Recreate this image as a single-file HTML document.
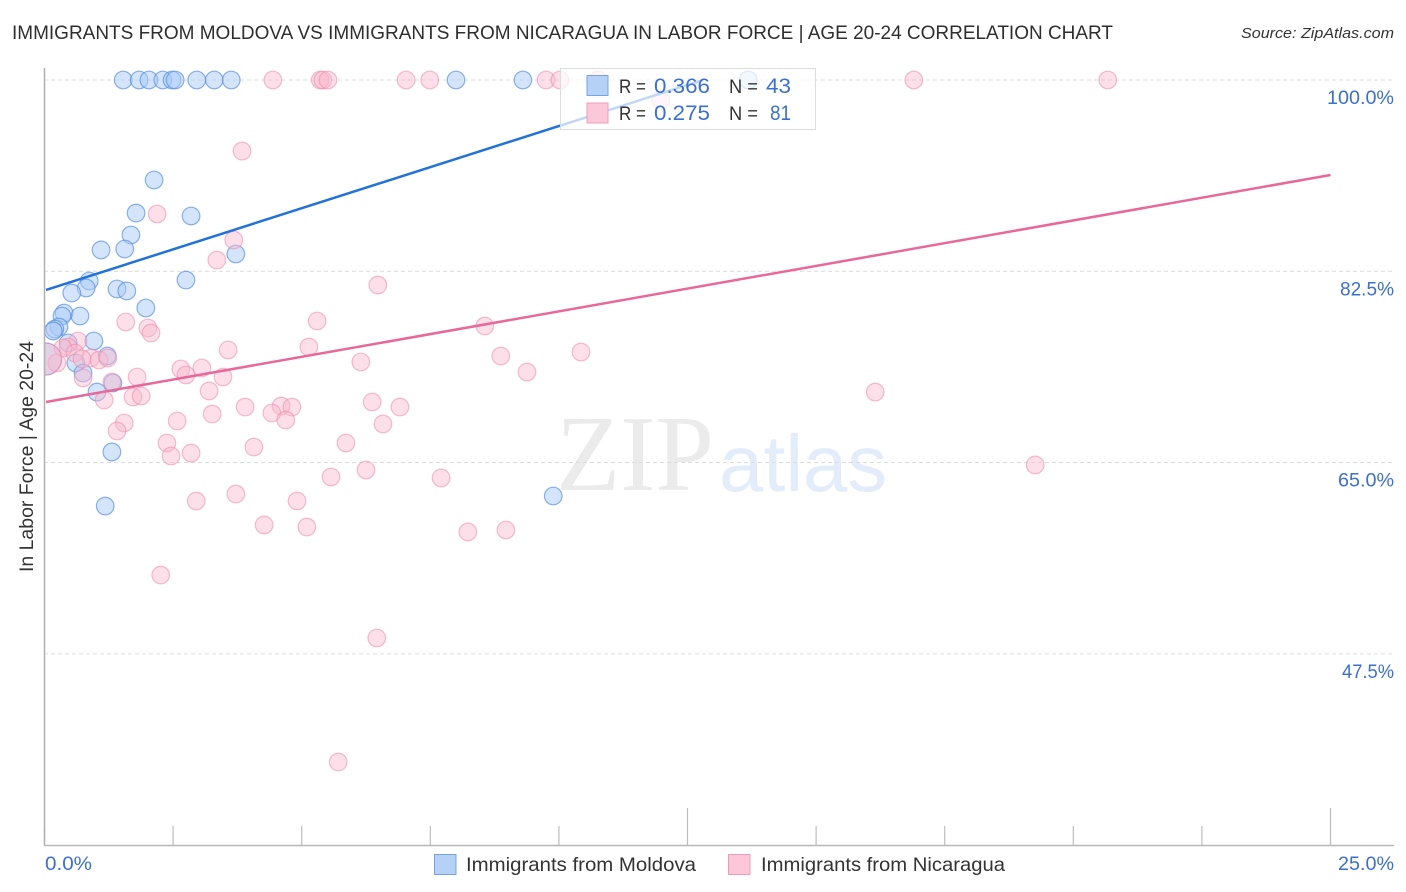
<!DOCTYPE html>
<html lang="en">
<head>
<meta charset="utf-8">
<title>Immigrants from Moldova vs Immigrants from Nicaragua correlation chart</title>
<style>
html,body{margin:0;padding:0;background:#fff;}
body{width:1406px;height:892px;overflow:hidden;}
svg{display:block;font-family:"Liberation Sans",sans-serif;}
</style>
</head>
<body>
<svg id="chart" width="1406" height="892" viewBox="0 0 1406 892" xmlns="http://www.w3.org/2000/svg">
  <defs>
    <clipPath id="plot-clip"><rect x="45" y="60" width="1349" height="785"/></clipPath>
  </defs>
  <text x="12" y="39" font-size="19" fill="#2e2e2e" textLength="1101" lengthAdjust="spacingAndGlyphs">IMMIGRANTS FROM MOLDOVA VS IMMIGRANTS FROM NICARAGUA IN LABOR FORCE | AGE 20-24 CORRELATION CHART</text>
  <text x="1241" y="38" font-size="15" font-style="italic" fill="#333" textLength="153" lengthAdjust="spacingAndGlyphs">Source: ZipAtlas.com</text>

  <g>
    <text x="556" y="490" font-family="'Liberation Serif',serif" font-size="108" fill="#ebebeb" textLength="158" lengthAdjust="spacingAndGlyphs">ZIP</text>
    <text x="719" y="491" font-size="80" fill="#e3ecfa" textLength="168" lengthAdjust="spacingAndGlyphs">atlas</text>
  </g>

  <g id="grid"></g>
  <g id="xticks"></g>
  <g id="ylabels"></g>
  <g id="xlabels"></g>

  <g id="points-moldova" clip-path="url(#plot-clip)"></g>
  <g id="points-nicaragua" clip-path="url(#plot-clip)"></g>
  <g id="lines"></g>

  <g id="axes">
    <line x1="44.5" y1="68" x2="44.5" y2="845" stroke="#b0b0b0" stroke-width="1.5"/>
    <line x1="44" y1="845.5" x2="1394" y2="845.5" stroke="#b8b8b8" stroke-width="1.5"/>
  </g>

  <text transform="translate(33,572) rotate(-90)" font-size="19" fill="#333" textLength="231" lengthAdjust="spacingAndGlyphs">In Labor Force | Age 20-24</text>

  <g>
    <rect x="560.5" y="68.5" width="255" height="61" fill="#fff" fill-opacity="0.72" stroke="#dcdcdc"/>
    <rect x="587" y="75.5" width="21" height="20" fill="#b5d2f6" stroke="#76a3e3"/>
    <rect x="587" y="103" width="21" height="20" fill="#fcc8d9" stroke="#f09bb8"/>
    <text x="619" y="93" font-size="19" fill="#333" textLength="27" lengthAdjust="spacingAndGlyphs">R =</text>
    <text x="654" y="93" font-size="21" fill="#3b6fd0" textLength="56" lengthAdjust="spacingAndGlyphs">0.366</text>
    <text x="729" y="93" font-size="19" fill="#333" textLength="29" lengthAdjust="spacingAndGlyphs">N =</text>
    <text x="766" y="93" font-size="21" fill="#3b6fd0" textLength="25" lengthAdjust="spacingAndGlyphs">43</text>
    <text x="619" y="120" font-size="19" fill="#333" textLength="27" lengthAdjust="spacingAndGlyphs">R =</text>
    <text x="654" y="120" font-size="21" fill="#3b6fd0" textLength="56" lengthAdjust="spacingAndGlyphs">0.275</text>
    <text x="729" y="120" font-size="19" fill="#333" textLength="29" lengthAdjust="spacingAndGlyphs">N =</text>
    <text x="770" y="120" font-size="21" fill="#3b6fd0" textLength="21" lengthAdjust="spacingAndGlyphs">81</text>
  </g>

  <g>
    <rect x="434.5" y="854.5" width="21.5" height="20" fill="#b5d2f6" stroke="#76a3e3"/>
    <text x="466" y="871" font-size="19.5" fill="#333" textLength="230" lengthAdjust="spacingAndGlyphs">Immigrants from Moldova</text>
    <rect x="728.5" y="854.5" width="21.5" height="20" fill="#fcc8d9" stroke="#f09bb8"/>
    <text x="761" y="871" font-size="19.5" fill="#333" textLength="244" lengthAdjust="spacingAndGlyphs">Immigrants from Nicaragua</text>
  </g>
</svg>
<script>
const gridValues = [100, 82.5, 65, 47.5];
const yTickLabels = ["100.0%", "82.5%", "65.0%", "47.5%"];
const xTickValues = [0, 2.5, 5, 7.5, 10, 12.5, 15, 17.5, 20, 22.5, 25];
const xMajorTicks = [12.5, 25];
const xEndLabels = ["0.0%", "25.0%"];

const moldovaX = [1.53,1.84,2.03,2.30,2.48,2.54,2.96,3.30,3.63,8.00,9.30,13.68,
  2.13,1.78,2.85,1.68,1.10,1.56,3.72,2.75,0.87,0.81,1.41,1.60,0.53,1.97,0.38,0.34,0.69,
  0.28,0.20,0.17,0.96,0.46,1.22,0.61,0.02,0.75,1.33,1.02,1.31,1.18,9.89];
const moldovaY = [100,100,100,100,100,100,100,100,100,100,100,100,
  90.85,87.83,87.56,85.82,84.45,84.54,84.08,81.70,81.61,80.97,80.88,80.70,80.51,79.14,78.68,78.41,78.41,
  77.40,77.22,77.04,76.12,75.94,74.75,74.11,74.47,73.19,72.28,71.45,65.97,61.02,61.94];

const nicaraguaX = [4.44,5.36,5.41,5.51,7.03,7.49,9.75,10.02,10.76,16.90,20.67,11.98,
  3.84,2.19,3.68,3.35,6.48,8.56,1.58,2.01,2.07,5.30,5.14,3.57,6.15,8.87,10.43,9.38,
  2.65,2.75,3.06,3.47,1.80,3.20,1.72,1.88,16.15,6.37,3.90,6.91,4.60,4.81,4.42,4.69,
  3.26,6.58,2.58,1.55,1.41,5.86,2.38,4.07,2.46,2.85,19.26,6.25,5.57,7.71,3.72,2.95,
  4.91,4.27,5.10,8.23,8.97,2.26,6.46,5.71,0.65,0.46,0.36,0.59,0.90,1.06,1.23,0.24,
  0.02,1.31,0.75,1.16,0.73];
const nicaraguaY = [100,100,100,100,100,100,100,100,100,100,100,98.17,
  93.50,87.74,85.36,83.53,81.24,77.49,77.86,77.31,76.85,77.95,75.57,75.30,74.20,74.75,75.11,73.28,
  73.56,73.01,73.65,72.83,72.83,71.55,71.00,71.09,71.45,70.54,70.08,70.08,70.17,70.08,69.53,68.89,
  69.44,68.53,68.80,68.62,67.89,66.79,66.79,66.42,65.60,65.87,64.78,64.32,63.68,63.59,62.12,61.48,
  61.48,59.29,59.10,58.65,58.83,54.71,48.95,37.60,76.12,75.57,75.48,75.02,74.57,74.38,74.57,74.11,
  74.47,72.37,72.74,70.72,74.48];

const moldovaLargeIndex = 36;
const nicaraguaLargeIndex = 76;

const moldovaTrendX = [0.03, 12.8];
const moldovaTrendY = [80.79, 100];
const nicaraguaTrendX = [0.03, 25];
const nicaraguaTrendY = [70.54, 91.31];

const NS = "http://www.w3.org/2000/svg";
const xScale = v => 44.5 + v * 51.44;
const yScale = v => 80 + (100 - v) * 10.93;

function make(tag, attrs, parent, text) {
  const el = document.createElementNS(NS, tag);
  for (const k in attrs) el.setAttribute(k, attrs[k]);
  if (text !== undefined) el.textContent = text;
  parent.appendChild(el);
  return el;
}

const grid = document.getElementById('grid');
const ylabels = document.getElementById('ylabels');
const labelWidths = [67, 54, 56, 52];
gridValues.forEach((v, i) => {
  const line = make('line', {x1: 44, x2: 1394, y1: yScale(v), y2: yScale(v), stroke: '#dcdcdc', 'stroke-width': 1, 'stroke-dasharray': '4 3'}, grid);
  
  
  const label = make('text', {x: 1394, y: yScale(v) + 24, 'text-anchor': 'end', 'font-size': 19, fill: '#3b6fd0', textLength: labelWidths[i], lengthAdjust: 'spacingAndGlyphs'}, ylabels, yTickLabels[i]);
  
  
});

const xticks = document.getElementById('xticks');
xTickValues.forEach(v => {
  const top = xMajorTicks.includes(v) ? 808 : 826;
  const tick = make('line', {x1: xScale(v), x2: xScale(v), y1: top, y2: 845, stroke: '#bdbdbd', 'stroke-width': 1.2}, xticks);
  
  
});

const xlabels = document.getElementById('xlabels');
const x0Label = make('text', {x: 45, y: 870, 'font-size': 19, fill: '#3b6fd0', textLength: 47, lengthAdjust: 'spacingAndGlyphs'}, xlabels, xEndLabels[0]);


const x1Label = make('text', {x: 1338, y: 870, 'font-size': 19, fill: '#3b6fd0', textLength: 56, lengthAdjust: 'spacingAndGlyphs'}, xlabels, xEndLabels[1]);



const moldovaGroup = document.getElementById('points-moldova');
moldovaX.forEach((v, i) => {
  const c = make('circle', {cx: xScale(v), cy: yScale(moldovaY[i]), r: i === moldovaLargeIndex ? 16 : 8.8, fill: '#a9c9f5', 'fill-opacity': 0.5, stroke: '#4f8ae0', 'stroke-opacity': 0.65, 'stroke-width': 1.2}, moldovaGroup);
  
  
});

const nicaraguaGroup = document.getElementById('points-nicaragua');
nicaraguaX.forEach((v, i) => {
  const c = make('circle', {cx: xScale(v), cy: yScale(nicaraguaY[i]), r: i === nicaraguaLargeIndex ? 16 : 8.8, fill: '#f9b9cd', 'fill-opacity': 0.45, stroke: '#ee86a9', 'stroke-opacity': 0.55, 'stroke-width': 1.2}, nicaraguaGroup);
  
  
});

const lines = document.getElementById('lines');
const moldovaLine = make('line', {x1: xScale(moldovaTrendX[0]), y1: yScale(moldovaTrendY[0]), x2: xScale(moldovaTrendX[1]), y2: yScale(moldovaTrendY[1]), stroke: '#2272d8', 'stroke-width': 2.5}, lines);


const nicaraguaLine = make('line', {x1: xScale(nicaraguaTrendX[0]), y1: yScale(nicaraguaTrendY[0]), x2: xScale(nicaraguaTrendX[1]), y2: yScale(nicaraguaTrendY[1]), stroke: '#e8689a', 'stroke-width': 2.5}, lines);


</script>
</body>
</html>
